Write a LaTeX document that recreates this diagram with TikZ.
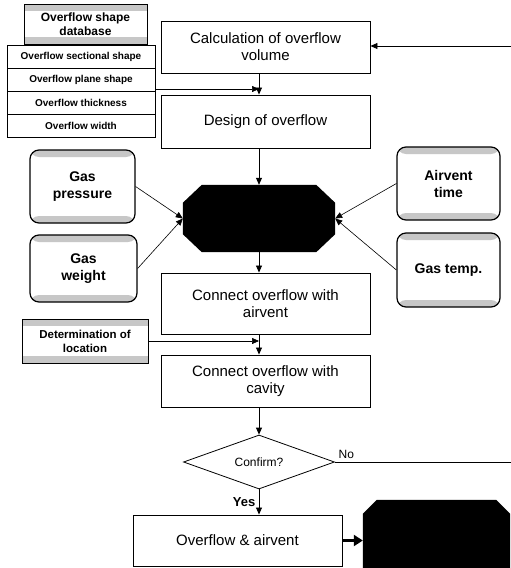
\documentclass[tikz,border=0pt]{standalone}
\usepackage{fontspec}
\setmainfont{Liberation Sans}
\usetikzlibrary{arrows.meta,positioning,shapes.geometric}

\begin{document}
\begin{tikzpicture}[
  x=1pt,
  y=-1pt,
  proc/.style={draw, line width=0.9pt, minimum width=209pt, inner sep=2pt, align=center, font=\fontsize{15}{17}\selectfont},
  rowbox/.style={draw, line width=0.8pt, minimum width=148pt, minimum height=23pt, inner sep=0pt, font=\bfseries\fontsize{10}{12}\selectfont},
  speckle/.style={path picture={
      \fill[black!22] (path picture bounding box.north west) rectangle ([yshift=-7pt]path picture bounding box.north east);
      \fill[black!22] (path picture bounding box.south west) rectangle ([yshift=7pt]path picture bounding box.south east);}},
  dbbox/.style={draw, line width=1pt, fill=white, speckle, align=center, inner sep=0pt},
  gasbox/.style={draw, line width=1.2pt, rounded corners=9pt, fill=white, speckle, align=center, inner sep=0pt, font=\bfseries\fontsize{14}{17}\selectfont},
  blackbox/.style={inner sep=0pt},
  judge/.style={diamond, draw, line width=0.8pt, aspect=3, minimum width=151pt, minimum height=54pt, inner sep=0pt, font=\fontsize{12}{14}\selectfont},
  flow/.style={-{Triangle[length=7pt,width=6pt]}, line width=0.8pt},
  feed/.style={-{Triangle[length=7pt,width=6pt]}, line width=0.6pt},
  bigflow/.style={-{Triangle[length=9pt,width=11pt]}, line width=3pt}
]
\useasboundingbox (0,0) rectangle (511,568);
\clip (0,0) rectangle (511,568);

% shape database and its list
\node[dbbox, minimum width=123pt, minimum height=40pt, font=\bfseries\fontsize{12}{14}\selectfont] (db) at (85.5,24) {Overflow shape\\database};
\node[rowbox] (r1) at (81,56.5) {Overflow sectional shape};
\node[rowbox] (r2) at (81,79.5) {Overflow plane shape};
\node[rowbox] (r3) at (81,102.5) {Overflow thickness};
\node[rowbox] (r4) at (81,125.5) {Overflow width};

% main column
\node[proc, minimum height=52pt] (calc) at (265.5,47) {Calculation of overflow\\volume};
\node[proc, minimum height=53pt] (design) at (265.5,121.5) {Design of overflow};
\node[blackbox, minimum width=152pt, minimum height=67pt] (oct1) at (259,218.5) {};
\node[proc, minimum height=61pt] (air) at (265.5,303.5) {Connect overflow with\\airvent};
\node[proc, minimum height=52pt] (cav) at (265.5,381) {Connect overflow with\\cavity};
\node[judge] (conf) at (259,462) {Confirm?};
\node[proc, minimum height=51pt] (fin) at (237.5,540.5) {Overflow \& airvent};
\node[blackbox, minimum width=147pt, minimum height=120pt] (oct2) at (436.5,560) {};

% black octagons
\fill ([xshift=19pt]oct1.north west) -- ([xshift=-19pt]oct1.north east) -- ([yshift=-18pt]oct1.north east)
  -- ([yshift=18pt]oct1.south east) -- ([xshift=-19pt]oct1.south east) -- ([xshift=19pt]oct1.south west)
  -- ([yshift=18pt]oct1.south west) -- ([yshift=-18pt]oct1.north west) -- cycle;
\fill ([xshift=14pt]oct2.north west) -- ([xshift=-14pt]oct2.north east) -- ([yshift=-14pt]oct2.north east)
  -- ([yshift=14pt]oct2.south east) -- ([xshift=-14pt]oct2.south east) -- ([xshift=14pt]oct2.south west)
  -- ([yshift=14pt]oct2.south west) -- ([yshift=-14pt]oct2.north west) -- cycle;

% gas inputs
\node[gasbox, minimum width=105pt, minimum height=73pt] (gp) at (82.5,186.5) {Gas\\pressure};
\node[gasbox, minimum width=107pt, minimum height=67pt] (gw) at (83.5,268.5) {Gas\\weight};
\node[gasbox, minimum width=103pt, minimum height=73pt] (at) at (448.5,183.5) {Airvent\\time};
\node[gasbox, minimum width=103pt, minimum height=74pt] (gt) at (448.5,270) {Gas temp.};

\node[dbbox, minimum width=126pt, minimum height=44pt, font=\bfseries\fontsize{11.5}{14}\selectfont] (det) at (85,341) {Determination of\\location};

% connectors
\coordinate (rin) at (511,46);
\coordinate (nout) at (511,462);
\coordinate (j1) at (259,89);
\coordinate (j2) at (oct1 |- det.east);
\draw[flow] (rin) -- (calc.east |- rin);
\draw[feed] (r2.east |- j1) -- (j1);
\draw[flow] (calc.south -| oct1) -- (design.north -| oct1);
\draw[flow] (design.south -| oct1) -- (oct1.north);
\draw[feed] (gp.east) -- (oct1.west);
\draw[feed] (gw.east) -- (oct1.west);
\draw[feed] (at.west) -- (oct1.east);
\draw[feed] (gt.west) -- (oct1.east);
\draw[flow] (oct1.south) -- (air.north -| oct1);
\draw[feed] (det.east) -- (j2);
\draw[flow] (air.south -| oct1) -- (cav.north -| oct1);
\draw[flow] (cav.south -| oct1) -- (conf.north);
\draw[line width=0.8pt] (conf.east) -- node[pos=0, above right, font=\fontsize{12}{14}\selectfont] {No} (nout);
\draw[flow] (conf.south) -- node[left, font=\bfseries\fontsize{13}{15}\selectfont] {Yes} (fin.north -| conf);
\draw[bigflow] (fin.east) -- (oct2.west |- fin.east);
\end{tikzpicture}
\end{document}
